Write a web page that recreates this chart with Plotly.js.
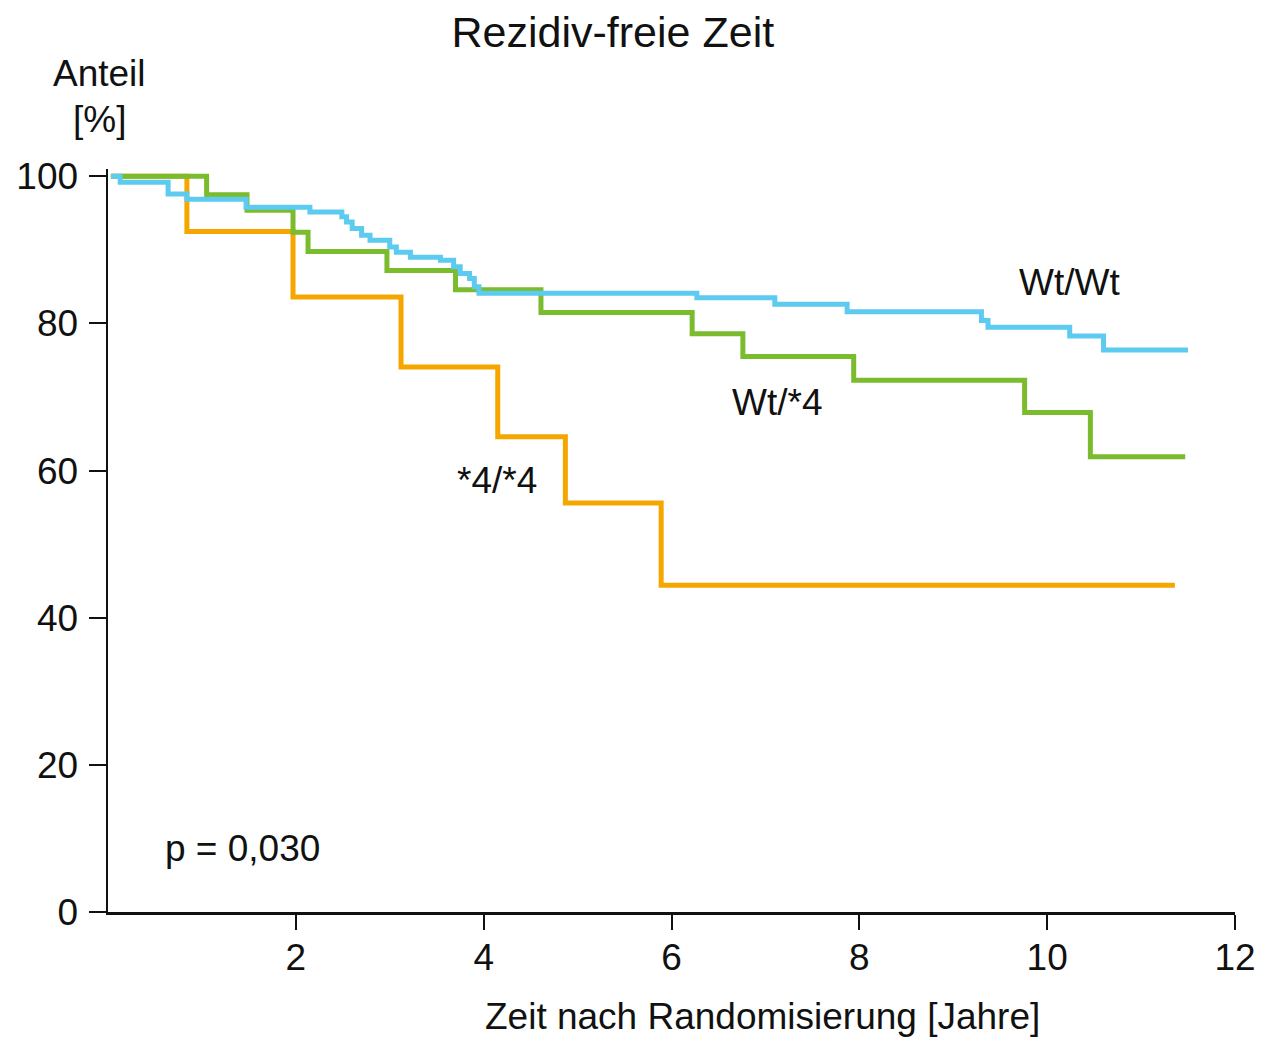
<!DOCTYPE html>
<html>
<head>
<meta charset="utf-8">
<script src="https://cdn.plot.ly/plotly-3.0.1.min.js"></script>
<style>html,body{margin:0;padding:0;background:#fff;}#chart{width:1261px;height:1040px;}</style>
</head>
<body>
<div id="chart"></div>
<script>
// Wt/Wt (blue)
const wtwtX = [0.03, 0.13, 0.64, 0.84, 1.47, 2.15, 2.49, 2.54, 2.60, 2.70, 2.79, 3.00, 3.07, 3.22, 3.54, 3.68, 3.75, 3.85, 3.90, 3.95, 6.27, 7.10, 7.87, 9.30, 9.37, 10.24, 10.60, 11.50];
const wtwtY = [100, 99.2, 97.6, 96.9, 95.8, 95.15, 94.5, 93.8, 92.9, 92.0, 91.3, 90.4, 89.7, 89.0, 88.6, 87.7, 86.8, 86.1, 85.0, 84.1, 83.5, 82.6, 81.6, 80.4, 79.5, 78.3, 76.4, 76.4];
// Wt/*4 (green)
const wt4X = [0.05, 1.05, 1.48, 1.97, 2.13, 2.97, 3.70, 4.61, 6.22, 6.76, 7.94, 9.76, 10.46, 11.47];
const wt4Y = [100, 97.5, 95.4, 92.4, 89.8, 87.2, 84.6, 81.5, 78.6, 75.5, 72.3, 67.9, 61.9, 61.9];
// *4/*4 (orange)
const s44X = [0.03, 0.84, 1.97, 3.12, 4.15, 4.87, 5.89, 11.36];
const s44Y = [100, 92.5, 83.6, 74.1, 64.6, 55.6, 44.4, 44.4];

const groupNames = ['Wt/Wt', 'Wt/*4', '*4/*4'];
const xTicks = [2, 4, 6, 8, 10, 12];
const yTicks = [0, 20, 40, 60, 80, 100];
const pText = 'p = 0,030';

const FONT = 'Liberation Sans, Arial, Helvetica, sans-serif';
const fs = 37;

const traces = [
  {x: s44X, y: s44Y, name: groupNames[2], mode: 'lines', line: {shape: 'hv', color: '#F5A700', width: 5}},
  {x: wt4X, y: wt4Y, name: groupNames[1], mode: 'lines', line: {shape: 'hv', color: '#7BBB2E', width: 5}},
  {x: wtwtX, y: wtwtY, name: groupNames[0], mode: 'lines', line: {shape: 'hv', color: '#5CCBEF', width: 5}}
];

const layout = {
  width: 1261, height: 1040,
  margin: {l: 108, r: 26, t: 169, b: 128},
  paper_bgcolor: '#fff', plot_bgcolor: '#fff',
  showlegend: false,
  font: {family: FONT, size: fs, color: '#111'},
  title: {text: 'Rezidiv-freie Zeit', font: {family: FONT, size: 43, color: '#111'}, x: 0.486, xanchor: 'center', xref: 'container', y: 0.969, yanchor: 'middle', yref: 'container'},
  xaxis: {
    range: [0, 12], tickvals: xTicks, ticktext: xTicks.map(String),
    showgrid: false, zeroline: false, showline: true, linecolor: '#111', linewidth: 2.5,
    ticks: 'outside', ticklen: 15, tickwidth: 2, tickcolor: '#111',
    tickfont: {family: FONT, size: fs, color: '#111'}, ticklabelstandoff: -4
  },
  yaxis: {
    range: [0, 101], tickvals: yTicks, ticktext: yTicks.map(String),
    showgrid: false, zeroline: false, showline: true, linecolor: '#111', linewidth: 2.5,
    ticks: 'outside', ticklen: 17, tickwidth: 2, tickcolor: '#111',
    tickfont: {family: FONT, size: fs, color: '#111'}, ticklabelstandoff: 3
  },
  annotations: [
    {text: groupNames[0], x: 10.24, y: 85.6, xref: 'x', yref: 'y', showarrow: false, font: {size: fs, family: FONT, color: '#111'}},
    {text: groupNames[1], x: 7.12, y: 69.2, xref: 'x', yref: 'y', showarrow: false, font: {size: fs, family: FONT, color: '#111'}},
    {text: groupNames[2], x: 4.14, y: 58.7, xref: 'x', yref: 'y', showarrow: false, font: {size: fs, family: FONT, color: '#111'}},
    {text: pText, x: 1.43, y: 8.7, xref: 'x', yref: 'y', showarrow: false, font: {size: fs, family: FONT, color: '#111'}},
    {text: 'Zeit nach Randomisierung [Jahre]', x: 0.581, y: -0.1413, xref: 'paper', yref: 'paper', xanchor: 'center', yanchor: 'middle', showarrow: false, font: {size: fs, family: FONT, color: '#111'}},
    {text: 'Anteil', x: -0.0071, y: 1.129, xref: 'paper', yref: 'paper', xanchor: 'center', yanchor: 'middle', showarrow: false, font: {size: fs, family: FONT, color: '#111'}},
    {text: '[%]', x: -0.0071, y: 1.066, xref: 'paper', yref: 'paper', xanchor: 'center', yanchor: 'middle', showarrow: false, font: {size: fs, family: FONT, color: '#111'}}
  ]
};

Plotly.newPlot('chart', traces, layout, {displayModeBar: false, staticPlot: true});
</script>
</body>
</html>
